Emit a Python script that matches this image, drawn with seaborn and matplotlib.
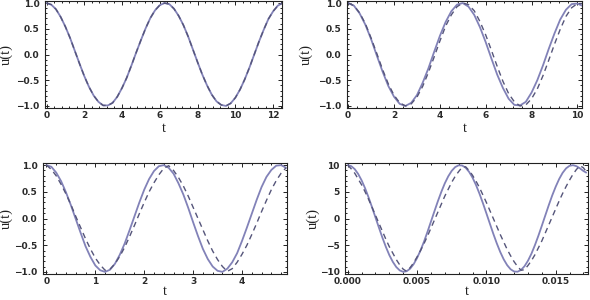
import numpy as np
import pandas as pd
import matplotlib
matplotlib.use("Agg")
import matplotlib.pyplot as plt
import seaborn as sns
from matplotlib.ticker import MultipleLocator, FuncFormatter

# ---------------- data ----------------
# Panel 1: sample times 0 .. 12.5 every 0.25 (both curves coincide)
t1 = [0.0, 0.25, 0.5, 0.75, 1.0, 1.25, 1.5, 1.75, 2.0, 2.25, 2.5, 2.75, 3.0, 3.25, 3.5,
      3.75, 4.0, 4.25, 4.5, 4.75, 5.0, 5.25, 5.5, 5.75, 6.0, 6.25, 6.5, 6.75, 7.0, 7.25,
      7.5, 7.75, 8.0, 8.25, 8.5, 8.75, 9.0, 9.25, 9.5, 9.75, 10.0, 10.25, 10.5, 10.75,
      11.0, 11.25, 11.5, 11.75, 12.0, 12.25, 12.5]
u1_solid = [1.00, 0.97, 0.88, 0.73, 0.54, 0.32, 0.07, -0.18, -0.42, -0.63, -0.80, -0.92,
            -0.99, -0.99, -0.94, -0.82, -0.65, -0.45, -0.21, 0.04, 0.28, 0.51, 0.71, 0.86,
            0.96, 1.00, 0.98, 0.89, 0.75, 0.57, 0.35, 0.10, -0.15, -0.39, -0.60, -0.78,
            -0.91, -0.98, -1.00, -0.95, -0.84, -0.68, -0.48, -0.25, 0.00, 0.25, 0.48, 0.69,
            0.84, 0.95, 1.00]
u1_dashed = [1.00, 0.97, 0.88, 0.73, 0.54, 0.32, 0.07, -0.18, -0.42, -0.63, -0.80, -0.92,
             -0.99, -0.99, -0.94, -0.82, -0.65, -0.45, -0.21, 0.04, 0.28, 0.51, 0.71, 0.86,
             0.96, 1.00, 0.98, 0.89, 0.75, 0.57, 0.35, 0.10, -0.15, -0.39, -0.60, -0.78,
             -0.91, -0.98, -1.00, -0.95, -0.84, -0.68, -0.48, -0.25, 0.00, 0.25, 0.48, 0.69,
             0.84, 0.95, 1.00]

# Panel 2: sample times 0 .. 10 every 0.25, plus 10.2
t2 = [0.0, 0.25, 0.5, 0.75, 1.0, 1.25, 1.5, 1.75, 2.0, 2.25, 2.5, 2.75, 3.0, 3.25, 3.5,
      3.75, 4.0, 4.25, 4.5, 4.75, 5.0, 5.25, 5.5, 5.75, 6.0, 6.25, 6.5, 6.75, 7.0, 7.25,
      7.5, 7.75, 8.0, 8.25, 8.5, 8.75, 9.0, 9.25, 9.5, 9.75, 10.0, 10.2]
u2_solid = [1.00, 0.95, 0.80, 0.58, 0.30, -0.02, -0.33, -0.61, -0.82, -0.96, -1.00, -0.94,
            -0.79, -0.55, -0.27, 0.05, 0.36, 0.63, 0.84, 0.97, 1.00, 0.93, 0.77, 0.53, 0.24,
            -0.08, -0.39, -0.65, -0.86, -0.98, -0.99, -0.92, -0.74, -0.50, -0.21, 0.11,
            0.41, 0.68, 0.87, 0.98, 0.99, 0.95]
u2_dashed = [1.00, 0.95, 0.81, 0.60, 0.32, 0.02, -0.29, -0.57, -0.79, -0.94, -1.00, -0.96,
             -0.83, -0.62, -0.35, -0.05, 0.26, 0.55, 0.77, 0.93, 1.00, 0.97, 0.85, 0.64,
             0.38, 0.08, -0.23, -0.52, -0.76, -0.92, -1.00, -0.98, -0.86, -0.67, -0.41,
             -0.11, 0.20, 0.49, 0.74, 0.91, 0.99, 0.99]

# Panel 3: sample times 0 .. 4.9 every 0.1
t3 = [0.0, 0.1, 0.2, 0.3, 0.4, 0.5, 0.6, 0.7, 0.8, 0.9, 1.0, 1.1, 1.2, 1.3, 1.4, 1.5, 1.6,
      1.7, 1.8, 1.9, 2.0, 2.1, 2.2, 2.3, 2.4, 2.5, 2.6, 2.7, 2.8, 2.9, 3.0, 3.1, 3.2, 3.3,
      3.4, 3.5, 3.6, 3.7, 3.8, 3.9, 4.0, 4.1, 4.2, 4.3, 4.4, 4.5, 4.6, 4.7, 4.8, 4.9]
u3_solid = [1.00, 0.97, 0.86, 0.70, 0.49, 0.25, -0.01, -0.27, -0.52, -0.72, -0.88, -0.97,
            -1.00, -0.96, -0.85, -0.68, -0.47, -0.22, 0.04, 0.30, 0.54, 0.74, 0.89, 0.98,
            1.00, 0.95, 0.84, 0.66, 0.45, 0.20, -0.07, -0.33, -0.57, -0.76, -0.90, -0.98,
            -1.00, -0.94, -0.82, -0.65, -0.42, -0.17, 0.09, 0.35, 0.59, 0.78, 0.91, 0.99,
            1.00, 0.95]
u3_dashed = [1.00, 0.92, 0.80, 0.64, 0.46, 0.26, 0.04, -0.17, -0.38, -0.57, -0.74, -0.87,
             -0.97, -0.95, -0.85, -0.71, -0.54, -0.34, -0.13, 0.09, 0.30, 0.50, 0.67, 0.82,
             0.94, 0.99, 0.90, 0.77, 0.61, 0.42, 0.21, 0.00, -0.21, -0.42, -0.61, -0.77,
             -0.90, -0.99, -0.94, -0.82, -0.67, -0.50, -0.30, -0.09, 0.13, 0.34, 0.54, 0.71,
             0.85, 0.95]

# Panel 4: sample times 0 .. 0.017 every 0.00025, plus 0.0172
t4 = [0.0, 0.00025, 0.0005, 0.00075, 0.001, 0.00125, 0.0015, 0.00175, 0.002, 0.00225,
      0.0025, 0.00275, 0.003, 0.00325, 0.0035, 0.00375, 0.004, 0.00425, 0.0045, 0.00475,
      0.005, 0.00525, 0.0055, 0.00575, 0.006, 0.00625, 0.0065, 0.00675, 0.007, 0.00725,
      0.0075, 0.00775, 0.008, 0.00825, 0.0085, 0.00875, 0.009, 0.00925, 0.0095, 0.00975,
      0.01, 0.01025, 0.0105, 0.01075, 0.011, 0.01125, 0.0115, 0.01175, 0.012, 0.01225,
      0.0125, 0.01275, 0.013, 0.01325, 0.0135, 0.01375, 0.014, 0.01425, 0.0145, 0.01475,
      0.015, 0.01525, 0.0155, 0.01575, 0.016, 0.01625, 0.0165, 0.01675, 0.017, 0.0172]
u4_solid = [10.0, 9.81, 9.26, 8.35, 7.14, 5.66, 3.96, 2.11, 0.19, -1.73, -3.60, -5.33,
            -6.87, -8.12, -9.10, -9.73, -9.99, -9.88, -9.40, -8.56, -7.40, -5.96, -4.33,
            -2.50, -0.58, 1.35, 3.24, 5.00, 6.59, 7.91, 8.94, 9.64, 9.97, 9.93, 9.52, 8.75,
            7.66, 6.28, 4.66, 2.87, 0.97, -0.96, -2.87, -4.66, -6.28, -7.66, -8.75, -9.52,
            -9.93, -9.97, -9.64, -8.94, -7.91, -6.59, -5.00, -3.24, -1.35, 0.58, 2.50, 4.33,
            5.96, 7.40, 8.56, 9.40, 9.88, 9.99, 9.80, 9.40, 8.90, 8.60]
u4_dashed = [10.0, 9.3, 8.5, 7.4, 6.3, 5.0, 3.6, 2.1, 0.6, -0.9, -2.4, -3.9, -5.3, -6.5,
             -7.7, -8.7, -9.5, -9.9, -9.2, -8.3, -7.2, -6.0, -4.7, -3.3, -1.8, -0.3, 1.2,
             2.7, 4.2, 5.5, 6.8, 7.9, 8.8, 9.6, 9.7, 9.0, 8.1, 7.0, 5.8, 4.4, 3.0, 1.5, 0.0,
             -1.5, -3.0, -4.4, -5.8, -7.0, -8.1, -9.0, -9.7, -9.6, -8.8, -7.9, -6.8, -5.5,
             -4.2, -2.7, -1.2, 0.3, 1.8, 3.3, 4.7, 6.0, 7.2, 8.3, 9.2, 9.9, 9.5, 8.8]

xlabel_text = "t"
ylabel_text = "u(t)"

# ---------------- styling ----------------
sns.set_style("ticks")
plt.rcParams["font.family"] = ["DejaVu Sans"]

SOLID = "#8282b8"
DASHED = "#55557a"

fig = plt.figure(figsize=(5.9, 3.0), dpi=100)

fmt1 = lambda v, p: f"{v:.1f}".replace("-", "\u2212")
fmt0 = lambda v, p: f"{v:.0f}".replace("-", "\u2212")

panels = [
    dict(pos=[45/590, 1-108/300, 237/590, 107/300], ts=t1, us=u1_solid, td=t1, ud=u1_dashed,
         xlim=(-0.08, 12.47), ylim=(-1.04, 1.04), xmaj=2, xmin=0.4, ymaj=0.5, ymin=0.1,
         xfmt=lambda v, p: f"{v:g}", yfmt=fmt1, ylc=(-0.135, 0.5), xlc=(0.5, -0.13)),
    dict(pos=[347/590, 1-108/300, 235/590, 107/300], ts=t2, us=u2_solid, td=t2, ud=u2_dashed,
         xlim=(-0.05, 10.2), ylim=(-1.04, 1.04), xmaj=2, xmin=0.4, ymaj=0.5, ymin=0.1,
         xfmt=lambda v, p: f"{v:g}", yfmt=fmt1, ylc=(-0.145, 0.5), xlc=(0.5, -0.13)),
    dict(pos=[43/590, 1-274/300, 244/590, 111/300], ts=t3, us=u3_solid, td=t3, ud=u3_dashed,
         xlim=(-0.07, 4.92), ylim=(-1.04, 1.04), xmaj=1, xmin=0.2, ymaj=0.5, ymin=0.1,
         xfmt=lambda v, p: f"{v:g}", yfmt=fmt1, ylc=(-0.122, 0.5), xlc=(0.5, -0.10)),
    dict(pos=[345/590, 1-274/300, 243/590, 111/300], ts=t4, us=u4_solid, td=t4, ud=u4_dashed,
         xlim=(-0.0002, 0.01733), ylim=(-10.4, 10.4), xmaj=0.005, xmin=0.001, ymaj=5, ymin=1,
         xfmt=lambda v, p: f"{v:.3f}", yfmt=fmt0, ylc=(-0.103, 0.5), xlc=(0.5, -0.10)),
]

for p in panels:
    ax = fig.add_axes(p["pos"])
    dfs = pd.DataFrame({"t": p["ts"], "u": p["us"]})
    dfd = pd.DataFrame({"t": p["td"], "u": p["ud"]})
    sns.lineplot(data=dfs, x="t", y="u", ax=ax, color=SOLID, lw=1.3, estimator=None, sort=False)
    sns.lineplot(data=dfd, x="t", y="u", ax=ax, color=DASHED, lw=1.0, estimator=None,
                 sort=False, linestyle=(0, (4, 3)))
    ax.set_xlim(*p["xlim"])
    ax.set_ylim(*p["ylim"])
    ax.xaxis.set_major_locator(MultipleLocator(p["xmaj"]))
    ax.xaxis.set_minor_locator(MultipleLocator(p["xmin"]))
    ax.yaxis.set_major_locator(MultipleLocator(p["ymaj"]))
    ax.yaxis.set_minor_locator(MultipleLocator(p["ymin"]))
    ax.xaxis.set_major_formatter(FuncFormatter(p["xfmt"]))
    ax.yaxis.set_major_formatter(FuncFormatter(p["yfmt"]))
    ax.tick_params(which="both", direction="in", top=True, right=True, width=0.7,
                   color="#222222", labelsize=6.5, labelcolor="#2a2a2a")
    ax.tick_params(which="major", length=3)
    ax.tick_params(which="minor", length=1.6)
    ax.tick_params(axis="y", which="major", pad=4)
    ax.tick_params(axis="x", which="major", pad=2.5)
    for lab in ax.get_xticklabels() + ax.get_yticklabels():
        lab.set_fontweight("bold")
    for s in ax.spines.values():
        s.set_visible(True)
        s.set_linewidth(0.8)
        s.set_color("#222222")
    ax.set_xlabel(xlabel_text, family="Liberation Serif", fontsize=10.5, color="#222222")
    ax.set_ylabel(ylabel_text, family="Liberation Serif", fontsize=10.5, color="#222222")
    ax.yaxis.set_label_coords(*p["ylc"])
    ax.xaxis.set_label_coords(*p["xlc"])
    ax.set_facecolor("white")

fig.savefig("out.png", dpi=100, facecolor="white")
